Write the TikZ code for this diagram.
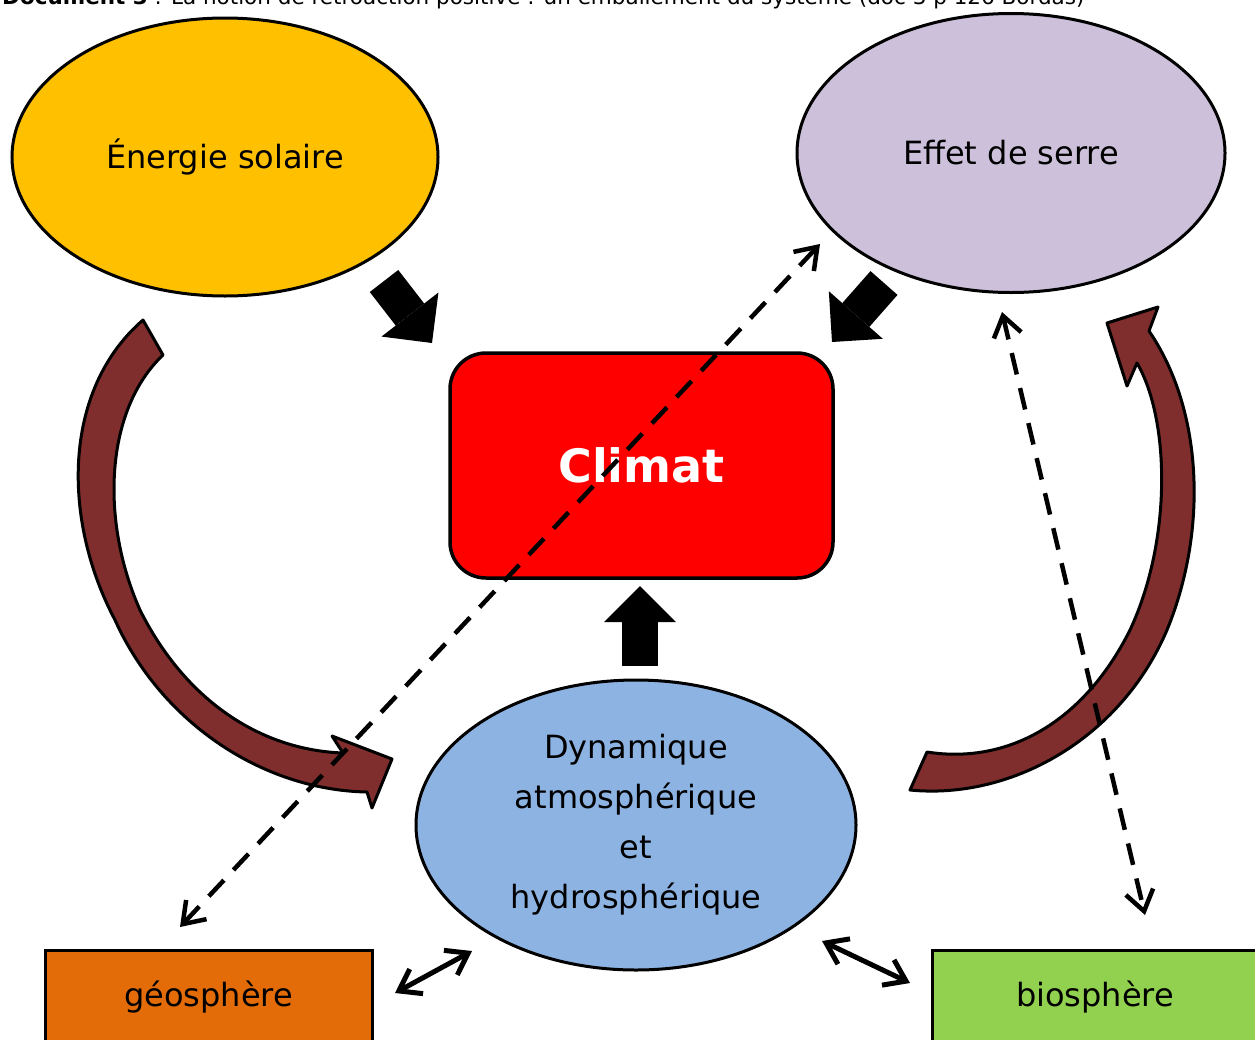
\documentclass[tikz,border=0pt]{standalone}
\usepackage{fontspec}
\setmainfont{DejaVu Sans}
\usetikzlibrary{arrows.meta,shapes.geometric}
\definecolor{solaire}{HTML}{FFC000}
\definecolor{serre}{HTML}{CCC0DA}
\definecolor{dyna}{HTML}{8DB3E2}
\definecolor{geo}{HTML}{E36C09}
\definecolor{bio}{HTML}{92D050}
\definecolor{arrowred}{HTML}{7F2D2D}
\begin{document}
\begin{tikzpicture}[x=1pt,y=-1pt,
  bubble/.style={ellipse, draw=black, line width=3pt, inner sep=0pt, font=\fontsize{32}{38}\selectfont},
  boxnode/.style={rectangle, draw=black, line width=3pt, inner sep=0pt, font=\fontsize{32}{38}\selectfont},
  blockarrow/.style={line width=36pt, -{Triangle[length=36pt,width=72pt,line width=0pt]}},
  dasharrow/.style={line width=4.5pt, dash pattern=on 22pt off 14pt,
     {Straight Barb[length=20pt,width=28pt]}-{Straight Barb[length=20pt,width=28pt]}},
  linkarrow/.style={line width=5pt,
     {Straight Barb[length=20pt,width=28pt]}-{Straight Barb[length=20pt,width=28pt]}},
  curvearrow/.style={fill=arrowred, draw=black, line width=3pt, line join=round}
]
\useasboundingbox (0,0) rectangle (1255,1039);
\clip (0,0) rectangle (1255,1039);
\fill[white] (0,0) rectangle (1255,1039);

% title (cut off at the top, as in the source)
\node[anchor=base west, inner sep=0pt, font=\fontsize{21.5}{24}\selectfont] (titre) at (2,4)
  {\textbf{Document 3} : La notion de rétroaction positive : un emballement du système (doc 3 p 126 Bordas)};

% main nodes
\node[bubble, fill=solaire, minimum width=426pt, minimum height=278pt] (sol) at (225,157) {Énergie solaire};
\node[bubble, fill=serre, minimum width=428pt, minimum height=279pt] (serre) at (1011,153) {Effet de serre};
\node[rectangle, draw=black, line width=3.5pt, rounded corners=36pt, fill=red,
      minimum width=383pt, minimum height=225pt, text=white,
      font=\fontsize{46}{50}\selectfont\bfseries] (climat) at (641.5,465.5) {Climat};
\node[bubble, fill=dyna, minimum width=440pt, minimum height=290pt, align=center,
      font=\fontsize{32}{50}\selectfont] (dyn) at (636,825)
      {Dynamique\\atmosphérique\\et\\hydrosphérique};
\node[boxnode, fill=geo, minimum width=327pt, minimum height=94pt] (geo) at (208.5,997) {géosphère};
\node[boxnode, fill=bio, minimum width=326pt, minimum height=94pt] (bio) at (1095,997) {biosphère};

% curved feedback arrows
\draw[curvearrow] (143,320) -- (163,355)
  .. controls (105,410) and (100,520) .. (140,610)
  .. controls (185,700) and (260,750) .. (343,753)
  -- (332,736) -- (392,759) -- (372,808) -- (367,792)
  .. controls (260,790) and (160,720) .. (115,620)
  .. controls (62,520) and (62,390) .. (143,320) -- cycle;
\draw[curvearrow] (910,790) -- (927,752)
  .. controls (1010,765) and (1085,720) .. (1130,630)
  .. controls (1172,540) and (1170,420) .. (1137,363)
  -- (1127,386) -- (1107,323) -- (1158,307) -- (1149,331)
  .. controls (1203,410) and (1208,530) .. (1167,630)
  .. controls (1120,740) and (1010,800) .. (910,790) -- cycle;

% block arrows towards the climate
\coordinate (solA) at (384,281);
\coordinate (solB) at (432,343);
\coordinate (serA) at (884,283);
\coordinate (serB) at (832,342);
\coordinate (dynA) at (640,666);
\coordinate (dynB) at (640,586);
\draw[blockarrow] (solA) -- (solB);
\draw[blockarrow] (serA) -- (serB);
\draw[blockarrow] (dynA) -- (dynB);

% exchanges with geosphere and biosphere
\coordinate (geoA) at (395,993);
\coordinate (geoB) at (472,951);
\coordinate (bioA) at (822,941);
\coordinate (bioB) at (910,983);
\draw[linkarrow] (geoA) -- (geoB);
\draw[linkarrow] (bioA) -- (bioB);

% dashed links
\coordinate (d1a) at (180,927);
\coordinate (d1b) at (820,244);
\coordinate (d2a) at (1002,312);
\coordinate (d2b) at (1145,915);
\draw[dasharrow] (d1a) -- (d1b);
\draw[dasharrow] (d2a) -- (d2b);
\end{tikzpicture}
\end{document}
